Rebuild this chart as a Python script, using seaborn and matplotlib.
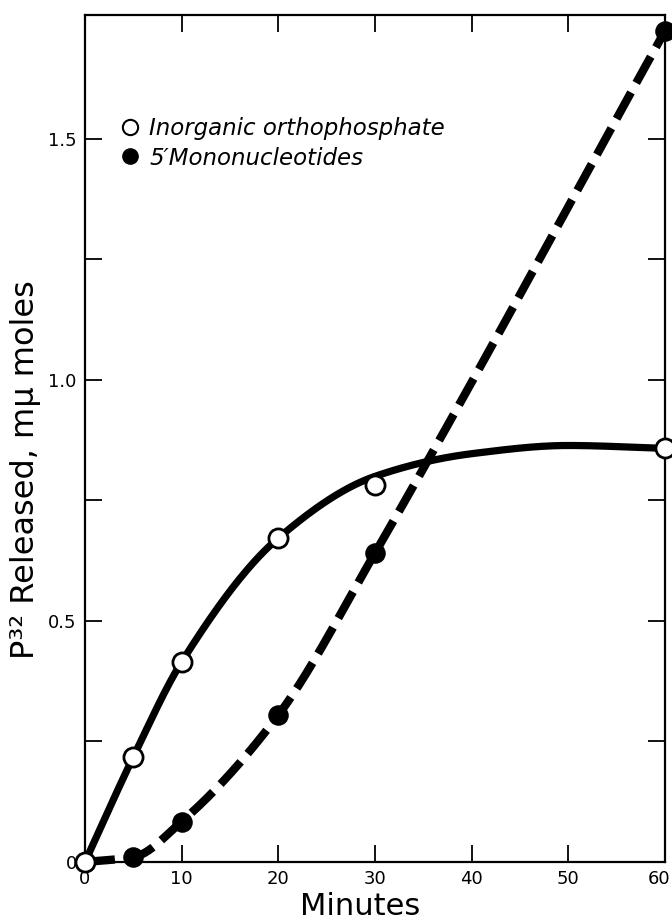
import numpy as np
import pandas as pd
import matplotlib
matplotlib.use("Agg")
import matplotlib.pyplot as plt
from matplotlib.lines import Line2D
import matplotlib.transforms as mtransforms
import seaborn as sns

# ---- data ----
minutes_inorg = [0, 5, 10, 20, 30, 60]
inorganic = [0.0, 0.218, 0.415, 0.672, 0.782, 0.858]
minutes_mono = [0, 5, 10, 20, 30, 60]
mononuc = [0.0, 0.010, 0.084, 0.305, 0.641, 1.724]
# smooth hand-drawn fit curves as they appear in the picture
fit_inorg_x = [0, 5, 10, 20, 30, 40, 50, 60]
fit_inorg_y = [0.0, 0.218, 0.415, 0.672, 0.800, 0.847, 0.864, 0.858]
fit_mono_x = [0, 5, 10, 20, 30, 60]
fit_mono_y = [0.0, 0.010, 0.084, 0.305, 0.641, 1.724]
x_ticks = [0, 10, 20, 30, 40, 50, 60]
y_ticks = [0, 0.25, 0.5, 0.75, 1.0, 1.25, 1.5]
y_tick_labels = ["0", "", "0.5", "", "1.0", "", "1.5"]
legend_labels = ["Inorganic orthophosphate", "5\u2032Mononucleotides"]


def pchip(x, y, xs):
    x = np.asarray(x, float); y = np.asarray(y, float)
    h = np.diff(x); d = np.diff(y) / h
    m = np.zeros_like(y)
    for k in range(1, len(x) - 1):
        if d[k - 1] * d[k] > 0:
            w1 = 2 * h[k] + h[k - 1]; w2 = h[k] + 2 * h[k - 1]
            m[k] = (w1 + w2) / (w1 / d[k - 1] + w2 / d[k])
    m[0] = d[0]; m[-1] = d[-1]
    out = np.empty_like(xs)
    for i, xv in enumerate(xs):
        k = min(np.searchsorted(x, xv, side="right") - 1, len(x) - 2)
        t = (xv - x[k]) / h[k]
        h00 = 2 * t**3 - 3 * t**2 + 1; h10 = t**3 - 2 * t**2 + t
        h01 = -2 * t**3 + 3 * t**2; h11 = t**3 - t**2
        out[i] = h00 * y[k] + h10 * h[k] * m[k] + h01 * y[k + 1] + h11 * h[k] * m[k + 1]
    return out


sns.set_theme(style="ticks")
plt.rcParams["font.family"] = ["DejaVu Sans"]
plt.rcParams.update({"text.color": "black", "axes.labelcolor": "black",
                     "xtick.color": "black", "ytick.color": "black"})

fig = plt.figure(figsize=(6.72, 9.22), dpi=100)
ax = fig.add_axes([85 / 672, 60 / 922, 580 / 672, 847 / 922])

xs = np.linspace(0, 60, 500)
curve_i = pd.DataFrame({"x": xs, "y": pchip(fit_inorg_x, fit_inorg_y, xs)})
curve_m = pd.DataFrame({"x": xs, "y": pchip(fit_mono_x, fit_mono_y, xs)})

sns.lineplot(data=curve_i, x="x", y="y", ax=ax, color="black", lw=5.2,
             clip_on=False, zorder=2)
sns.lineplot(data=curve_m, x="x", y="y", ax=ax, color="black", lw=6,
             clip_on=False, zorder=2)
ax.lines[-1].set_dashes([3.6, 1.3])
ax.lines[-1].set_dash_capstyle("butt")

pts_m = pd.DataFrame({"x": minutes_mono[1:], "y": mononuc[1:]})
pts_i = pd.DataFrame({"x": minutes_inorg, "y": inorganic})
sns.scatterplot(data=pts_m, x="x", y="y", ax=ax, s=190, color="black",
                edgecolor="black", linewidth=1, zorder=3, clip_on=False)
sns.scatterplot(data=pts_i, x="x", y="y", ax=ax, s=190, color="white",
                edgecolor="black", linewidth=2, zorder=4, clip_on=False)

ax.set_xlim(0, 60)
ax.set_ylim(0, 1.757)
ax.set_xticks(x_ticks)
ax.set_xticklabels([str(v) for v in x_ticks], fontsize=13)
ax.set_yticks(y_ticks)
ax.set_yticklabels(y_tick_labels, fontsize=13)
ax.tick_params(direction="in", length=12, width=1.3, top=True, right=True,
               pad=6, colors="black")
# keep the last x tick label inside the figure
lab60 = ax.get_xticklabels()[-1]
lab60.set_transform(lab60.get_transform() +
                    mtransforms.ScaledTranslation(-6 / 100, 0, fig.dpi_scale_trans))
for sp in ax.spines.values():
    sp.set_visible(True)
    sp.set_linewidth(1.6)
    sp.set_color("black")

ax.set_xlabel("Minutes", fontsize=22)
ax.xaxis.set_label_coords(0.474, -0.035)
ax.set_ylabel("P\u00b3\u00b2 Released, m\u03bc moles", fontsize=23)
ax.yaxis.set_label_coords(-0.076, 0.463)

handles = [
    Line2D([], [], ls="none", marker="o", markersize=11, markerfacecolor="white",
           markeredgecolor="black", markeredgewidth=1.5),
    Line2D([], [], ls="none", marker="o", markersize=11, markerfacecolor="black",
           markeredgecolor="black"),
]
ax.legend(handles, legend_labels, loc="upper left",
          bbox_to_anchor=(15 / 580, 1 - 81 / 847), frameon=False,
          handlelength=0.8, handletextpad=0.45, labelspacing=0.3,
          prop={"style": "italic", "size": 16.5})

fig.savefig("out.png", dpi=100)
